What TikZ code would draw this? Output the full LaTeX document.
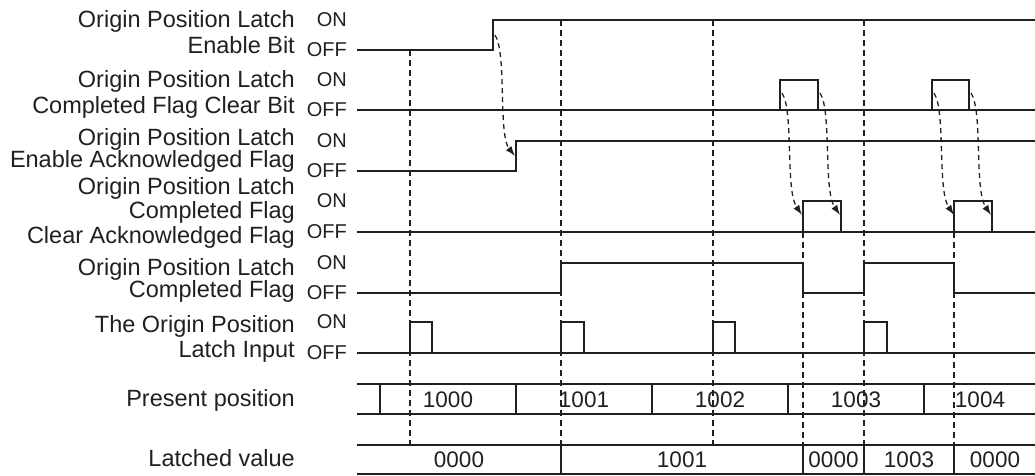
\documentclass[tikz,border=0pt]{standalone}
\usepackage{fontspec}
\setmainfont{Liberation Sans}
\usetikzlibrary{arrows.meta}
\definecolor{ink}{RGB}{35,31,32}
\tikzset{
  sig/.style={draw=ink,line width=2.2pt,line join=miter},
  guide/.style={draw=ink,line width=1.3pt,dash pattern=on 6pt off 4pt},
  cause/.style={draw=ink,line width=1.3pt,dash pattern=on 5pt off 4pt,-{Latex[length=10pt,width=7pt]}},
  lbl/.style={text=ink,font=\fontsize{23.5}{#1}\selectfont,align=right,anchor=base east,inner sep=0pt},
  lbl/.default=24,
  lvl/.style={text=ink,font=\fontsize{20}{20}\selectfont,anchor=east,inner sep=0pt},
  val/.style={text=ink,font=\fontsize{22.5}{22.5}\selectfont,anchor=base,inner sep=0pt}
}

\begin{document}
\begin{tikzpicture}[x=1pt,y=-1pt]
\useasboundingbox (0,0) rectangle (1035,475);

\foreach \x/\y in {410/50,561/20,713/20,864/20,803/232,954/232}
  \draw[guide] (\x,\y) -- (\x,445);

\draw[sig] (357,50) -- (493,50) -- (493,20) -- (1035,20);
\draw[sig] (357,110) -- (1035,110);
\foreach \a/\b in {780/818,932/969}
  \draw[sig] (\a,110) |- (\b,80) -- (\b,110);
\draw[sig] (357,171) -- (516,171) -- (516,141) -- (1035,141);
\draw[sig] (357,232) -- (1035,232);
\foreach \a/\b in {803/841,954/992}
  \draw[sig] (\a,232) |- (\b,201) -- (\b,232);
\draw[sig] (357,293) -- (561,293) -- (561,263) -- (803,263) -- (803,293)
  -- (864,293) -- (864,263) -- (954,263) -- (954,293) -- (1035,293);
\draw[sig] (357,353) -- (1035,353);
\foreach \a/\b in {410/432,561/584,713/735,864/887}
  \draw[sig] (\a,353) |- (\b,322) -- (\b,353);

\draw[sig] (357,384) -- (1035,384) (357,414) -- (1035,414);
\foreach \x in {380,516,652,788,924}
  \draw[sig] (\x,384) -- (\x,414);
\draw[sig] (357,445) -- (1035,445) (357,474) -- (1035,474);
\foreach \x in {561,803,864,954}
  \draw[sig] (\x,445) -- (\x,474);

\draw[cause] (495,35) .. controls (507,53) and (498,135) .. (515,156);
\foreach \a in {780,818,932,969}
  \draw[cause] (\a+2,93) .. controls (\a+14,111) and (\a+5,190) .. (\a+22,215);

\node[lbl=26] (enbit) at (295,53) {Origin Position Latch\\Enable Bit};
\node[lbl=26] (clrbit) at (295,113) {Origin Position Latch\\Completed Flag Clear Bit};
\node[lbl=22] (enack) at (295,167) {Origin Position Latch\\Enable Acknowledged Flag};
\node[lbl=24.5] (clrack) at (295,243) {Origin Position Latch\\Completed Flag\\Clear Acknowledged Flag};
\node[lbl=22] (cmpflag) at (295,297) {Origin Position Latch\\Completed Flag};
\node[lbl=25] (latchin) at (295,357) {The Origin Position\\Latch Input};
\node[lbl] (prespos) at (295,406) {Present position};
\node[lbl] (latval) at (295,466) {Latched value};

\foreach \n/\on/\off in {a/20/50,b/80/110,c/141/171,d/201/232,e/263/293,f/322/353}{
  \node[lvl] (on\n) at (347,\on) {ON};
  \node[lvl] (off\n) at (347,\off) {OFF};
}

\foreach \x/\v [count=\i] in {448/1000,584/1001,720/1002,856/1003,980/1004}
  \node[val] (pos\i) at (\x,407) {\v};
\foreach \x/\v [count=\i] in {459/0000,682/1001,833.5/0000,909/1003,995/0000}
  \node[val] (lat\i) at (\x,467) {\v};
\end{tikzpicture}
\end{document}
